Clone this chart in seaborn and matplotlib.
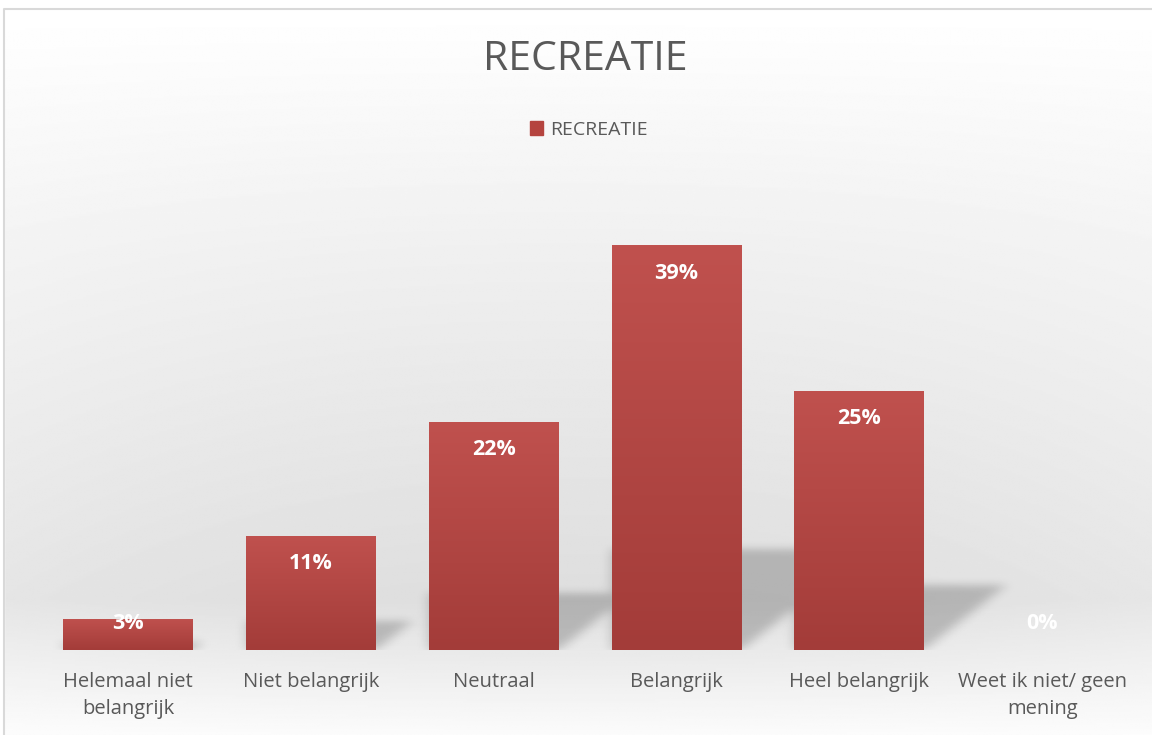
import numpy as np
import pandas as pd
import matplotlib
matplotlib.use('Agg')
import matplotlib.pyplot as plt
import seaborn as sns
from matplotlib.patches import Rectangle
from matplotlib.colors import LinearSegmentedColormap

# data
categories = ['Helemaal niet\nbelangrijk', 'Niet belangrijk', 'Neutraal',
              'Belangrijk', 'Heel belangrijk', 'Weet ik niet/ geen\nmening']
values = [3, 11, 22, 39, 25, 0]
labels = ['3%', '11%', '22%', '39%', '25%', '0%']
title = 'RECREATIE'

df = pd.DataFrame({'categorie': categories, 'pct': values})

sns.set_theme(style='white')
plt.rcParams['font.family'] = ['Open Sans', 'DejaVu Sans']

W, H = 1152, 735
fig = plt.figure(figsize=(W / 100, H / 100), dpi=100)

# background gradient (whole figure)
bg = fig.add_axes([0, 0, 1, 1], zorder=-10)
ys = np.linspace(0, H, 400)
shade = np.interp(ys, [0, 10, 250, 600, 735], [1.0, 1.0, 0.94, 0.87, 0.985])
xs = np.linspace(0, W, 300)
xfac = 1 - 0.25 * ((xs - 560) / 600) ** 2
img = 1 - (1 - shade[:, None]) * xfac[None, :]
bg.imshow(img, cmap='gray', vmin=0, vmax=1, aspect='auto', extent=[0, W, H, 0])
bg.set_xlim(0, W)
bg.set_ylim(H, 0)
bg.axis('off')
bg.add_patch(Rectangle((0, 0), W, 8, color='white', zorder=5))
bg.add_patch(Rectangle((0, 0), 3.5, H, color='white', zorder=5))
bg.plot([3.5, 3.5, W], [H, 8.5, 8.5], color='#d9d9d9', lw=1.5, zorder=6)

# plot area
left, right = 36.5 / W, 1133.5 / W
bottom, top = 1 - 650 / H, 1 - 235 / H
ax = fig.add_axes([left, bottom, right - left, top - bottom])
ax.patch.set_alpha(0)

sns.barplot(data=df, x='categorie', y='pct', color='#b5443f', width=0.71,
            linewidth=0, ax=ax, zorder=3)
ax.set_ylim(0, 40)
ax.set_xlim(-0.5, len(categories) - 0.5)

# soft shadows behind bars (blurred parallelograms on the floor)
nx, ny = 1097, 415
gx = np.linspace(-0.5, len(categories) - 0.5, nx)
gy = np.linspace(0, 40, ny)
X, Y = np.meshgrid(gx, gy)
mask = np.zeros_like(X)
for bar in ax.patches:
    x0, w, h = bar.get_x(), bar.get_width(), bar.get_height()
    if h <= 0:
        continue
    dy = 0.25 * h
    dx = 0.018 * h
    inside = (Y <= dy) & (X >= x0) & (X <= x0 + w + dx * Y / dy)
    mask[inside] = 1.0


def blur(a, sigma, axis):
    r = int(3 * sigma)
    k = np.exp(-0.5 * (np.arange(-r, r + 1) / sigma) ** 2)
    k /= k.sum()
    return np.apply_along_axis(lambda m: np.convolve(m, k, mode='same'), axis, a)


mask = blur(blur(mask, 6, 1), 4, 0)
shadow = np.zeros((ny, nx, 4))
shadow[..., 3] = mask * 0.2
ax.imshow(shadow, origin='lower', aspect='auto',
          extent=[-0.5, len(categories) - 0.5, 0, 40], zorder=2)

# gradient fill on bars
cmap = LinearSegmentedColormap.from_list('bar', ['#a33c39', '#c0514e'])
grad = np.linspace(0, 1, 256)[:, None]
for bar in ax.patches:
    x0, w, h = bar.get_x(), bar.get_width(), bar.get_height()
    if h <= 0:
        continue
    im = ax.imshow(grad, cmap=cmap, aspect='auto', origin='lower',
                   extent=[x0, x0 + w, 0, h], zorder=4)
    im.set_clip_path(bar)
ax.set_xlim(-0.5, len(categories) - 0.5)
ax.set_ylim(0, 40)

# data labels
for i, (v, lab) in enumerate(zip(values, labels)):
    ax.text(i, v - 2.7 if v > 3 else 2.6, lab, ha='center', va='center',
            color='white', fontsize=15.5, fontweight='bold', zorder=6)

ax.set_xlabel('')
ax.set_ylabel('')
ax.set_yticks([])
ax.tick_params(axis='x', length=0, pad=16, labelsize=14.5, labelcolor='#595959')
for lab in ax.get_xticklabels():
    lab.set_linespacing(1.45)
sns.despine(ax=ax, left=True, bottom=True)

fig.text(585 / W, 1 - 60 / H, title, ha='center', va='center',
         fontsize=29.5, color='#595959')

handle = Rectangle((0, 0), 1, 1, color='#b5443f')
fig.legend([handle], [title], loc='center', bbox_to_anchor=(589 / W, 1 - 130 / H),
           frameon=False, handlelength=0.65, handleheight=0.75, handletextpad=0.35,
           prop={'size': 14}, labelcolor='#595959')

fig.savefig('out.png', dpi=100)
